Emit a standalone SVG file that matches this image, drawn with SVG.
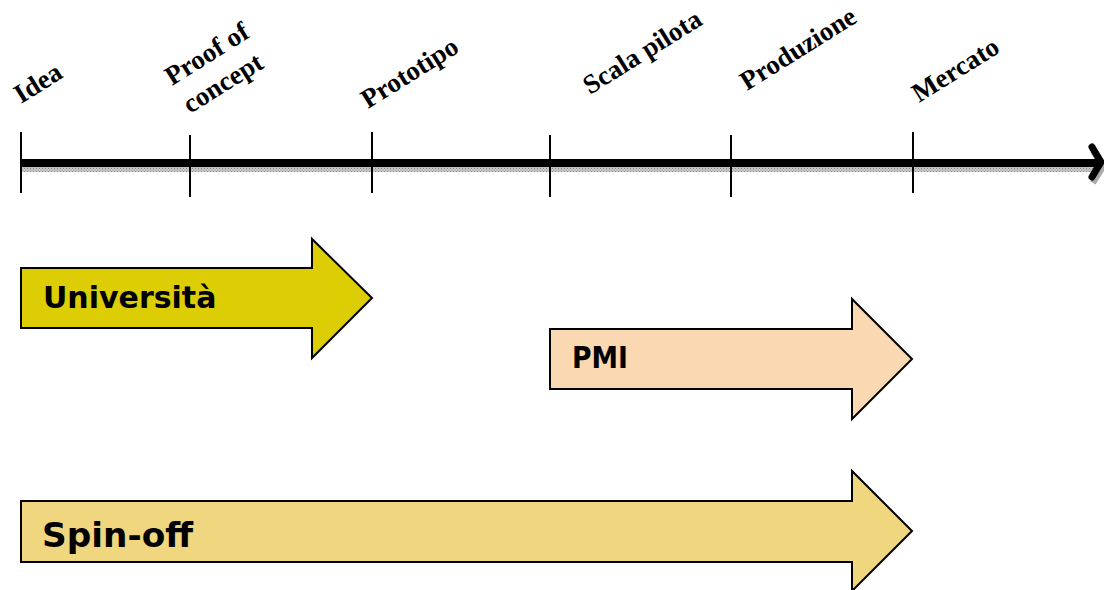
<svg xmlns="http://www.w3.org/2000/svg" width="1104" height="590" viewBox="0 0 1104 590">
<defs>
<style>
.lbl{font-family:"Liberation Serif","Times New Roman",serif;font-weight:bold;font-size:27px;fill:#000}
.tick{stroke:#000;stroke-width:2}
.box{stroke:#000;stroke-width:2;stroke-linejoin:miter}
.btxt{font-family:"DejaVu Sans",Verdana,sans-serif;font-weight:bold;fill:#000}
</style>
<pattern id="dots" width="3" height="3" patternUnits="userSpaceOnUse">
<rect width="3" height="3" fill="#c8c8c8"/>
<rect width="1" height="1" fill="#888"/>
<rect x="1.5" y="1.5" width="1" height="1" fill="#999"/>
</pattern>
</defs>
<rect width="1104" height="590" fill="#fff"/>
<g id="timeline">
<rect x="20" y="166" width="1076" height="6" fill="url(#dots)"/>
<polyline points="1093,151 1103,167 1093,183" fill="none" stroke="#aaa" stroke-width="6"/>
<line x1="20" y1="163" x2="1098" y2="163" stroke="#000" stroke-width="8"/>
<polyline points="1092,147 1101,162 1092,177" fill="none" stroke="#000" stroke-width="7" stroke-linejoin="round" stroke-linecap="round"/>
<line class="tick" x1="21" y1="132" x2="21" y2="193"/>
<line class="tick" x1="190" y1="135" x2="190" y2="197"/>
<line class="tick" x1="372" y1="132" x2="372" y2="193"/>
<line class="tick" x1="550" y1="135" x2="550" y2="197"/>
<line class="tick" x1="731" y1="135" x2="731" y2="197"/>
<line class="tick" x1="913" y1="132" x2="913" y2="193"/>
</g>
<g id="labels">
<text class="lbl" transform="translate(21,104) rotate(-32)">Idea</text>
<text class="lbl" transform="translate(172,86) rotate(-32)">Proof of</text>
<text class="lbl" transform="translate(190,114) rotate(-32)">concept</text>
<text class="lbl" transform="translate(368,109) rotate(-32)">Prototipo</text>
<text class="lbl" transform="translate(590,95) rotate(-32)">Scala pilota</text>
<text class="lbl" transform="translate(747,91) rotate(-32)">Produzione</text>
<text class="lbl" transform="translate(919,103) rotate(-32)">Mercato</text>
</g>
<g id="universita">
<polygon class="box" fill="#dccd04" points="21,268 312,268 312,239 372,298 312,358 312,328 21,328"/>
<text class="btxt" x="43" y="308" font-size="30">Università</text>
</g>
<g id="pmi">
<polygon class="box" fill="#fad9b2" points="550,329 852,329 852,299 912,359 852,419 852,389 550,389"/>
<text class="btxt" x="572" y="368" font-size="30" textLength="56" lengthAdjust="spacingAndGlyphs">PMI</text>
</g>
<g id="spinoff">
<polygon class="box" fill="#f0d67e" points="21,501 852,501 852,471 912,531 852,591 852,562 21,562"/>
<text class="btxt" x="42" y="547" font-size="34" textLength="151" lengthAdjust="spacingAndGlyphs">Spin-off</text>
</g>
</svg>
